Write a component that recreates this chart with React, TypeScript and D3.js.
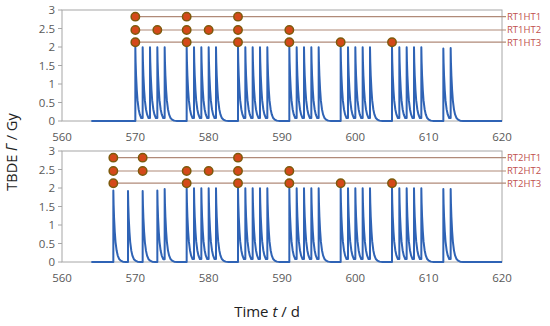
import React from 'react';
import * as d3 from 'd3';

// pulse start days (d) and peak dose (Gy)
const topPulseDays = [570, 571, 572, 573, 574, 577, 578, 579, 580, 581, 584, 585, 586, 587, 588,
  591, 592, 593, 594, 595, 598, 599, 600, 601, 602, 605, 606, 607, 608, 609, 612, 613];
const topPulsePeaks = [1.99, 1.99, 1.99, 1.99, 1.99, 1.99, 1.99, 1.99, 1.99, 1.99, 1.99, 1.99, 1.99, 1.99, 1.99,
  1.99, 1.99, 1.99, 1.99, 1.99, 1.99, 1.99, 1.99, 1.99, 1.99, 1.99, 1.99, 1.99, 1.99, 1.99, 1.96, 1.97];

const bottomPulseDays = [567, 569, 571, 573, 574, 577, 578, 579, 580, 581, 584, 585, 586, 587, 588,
  591, 592, 593, 594, 595, 598, 599, 600, 601, 602, 605, 606, 607, 608, 609, 612, 613];
const bottomPulsePeaks = [1.93, 1.92, 1.92, 1.93, 1.97, 1.99, 1.99, 1.99, 1.99, 1.99, 1.99, 1.99, 1.99, 1.99, 1.99,
  1.99, 1.99, 1.99, 1.99, 1.99, 1.99, 1.99, 1.99, 1.99, 1.99, 1.99, 1.99, 1.99, 1.99, 1.99, 1.97, 1.97];

// decay shape of one pulse, fraction of peak after a given time (d)
const shapeOffsets = [0, 0.04, 0.1, 0.2, 0.3, 0.45, 0.6, 0.8, 1.0, 1.3, 1.7];
const shapeFractions = [1, 0.8, 0.62, 0.42, 0.28, 0.16, 0.09, 0.04, 0.02, 0.005, 0];

const traceStart = 564;
const traceEnd = 620;

// schedule markers
const topNames = ['RT1HT1', 'RT1HT2', 'RT1HT3'];
const bottomNames = ['RT2HT1', 'RT2HT2', 'RT2HT3'];
const levels = [2.82, 2.46, 2.13];
const topMarkers = [
  [570, 577, 584],
  [570, 573, 577, 580, 584, 591],
  [570, 577, 584, 591, 598, 605],
];
const bottomMarkers = [
  [567, 571, 584],
  [567, 571, 577, 580, 584, 591],
  [567, 577, 584, 591, 598, 605],
];

const xTicks = [560, 570, 580, 590, 600, 610, 620];
const yTicks = [0, 0.5, 1, 1.5, 2, 2.5, 3];

const W = 550, H = 326;
const left = 62, right = 502;
const panels = [
  { top: 10, bottom: 121, days: topPulseDays, peaks: topPulsePeaks, names: topNames, markers: topMarkers },
  { top: 151, bottom: 262, days: bottomPulseDays, peaks: bottomPulsePeaks, names: bottomNames, markers: bottomMarkers },
];

function buildTrace(days: number[], peaks: number[]) {
  const pts: [number, number][] = [[traceStart, 0]];
  days.forEach((t, i) => {
    const last = pts[pts.length - 1][1];
    pts.push([t, last]);
    const gap = i < days.length - 1 ? days[i + 1] - t : Infinity;
    shapeOffsets.forEach((o, j) => {
      if (o < gap) pts.push([t + o, peaks[i] * shapeFractions[j]]);
    });
  });
  pts.push([traceEnd, 0]);
  return pts;
}

const x = d3.scaleLinear().domain([560, 620]).range([left, right]);
const font = '"Open Sans", "Noto Sans", sans-serif';

function Panel({ p }: { p: typeof panels[0] }) {
  const y = d3.scaleLinear().domain([0, 3]).range([p.bottom, p.top]);
  const line = d3.line<[number, number]>().x(d => x(d[0])).y(d => y(d[1]));
  const trace = buildTrace(p.days, p.peaks);
  return (
    <g>
      <rect x={left} y={p.top} width={right - left} height={p.bottom - p.top}
        fill="none" stroke="#a6a6a6" strokeWidth={1} />
      {yTicks.map(v => (
        <g key={v}>
          <line x1={left - 4} x2={left} y1={y(v)} y2={y(v)} stroke="#a6a6a6" />
          <text x={left - 7} y={y(v)} dy="0.35em" textAnchor="end" fontSize={11.5}
            fill="#595959" fontFamily={font}>{v}</text>
        </g>
      ))}
      {xTicks.map(v => (
        <text key={v} x={x(v)} y={p.bottom + 16} dy="0.35em" textAnchor="middle" fontSize={11.5}
          fill="#595959" fontFamily={font}>{v}</text>
      ))}
      <path d={line(trace) || ''} fill="none" stroke="#2f63b5" strokeWidth={2} strokeLinejoin="round" />
      {p.names.map((name, k) => {
        const ly = y(levels[k]);
        return (
          <g key={name}>
            <line x1={x(p.markers[k][0])} x2={right + 4} y1={ly} y2={ly} stroke="#b08a78" strokeWidth={1.2} />
            {p.markers[k].map(t => (
              <circle key={t} cx={x(t)} cy={ly} r={4.2} fill="#d4491a" stroke="#7d5a0c" strokeWidth={1.5} />
            ))}
            <text x={right + 5} y={ly} dy="0.35em" fontSize={9.5} fill="#c0504d" fontFamily={font}>{name}</text>
          </g>
        );
      })}
    </g>
  );
}

export default function App() {
  return (
    <svg width={W} height={H} style={{ position: 'absolute', left: 0, top: 0, background: '#fff' }}>
      {panels.map((p, i) => <Panel key={i} p={p} />)}
      <text transform="translate(17,152) rotate(-90)" textAnchor="middle" fontSize={14.5}
        fill="#222" fontFamily={font}>
        TBDE <tspan fontStyle="italic">Γ</tspan> / Gy
      </text>
      <text x={267} y={317} textAnchor="middle" fontSize={15} fill="#222" fontFamily={font}>
        Time <tspan fontStyle="italic">t</tspan> / d
      </text>
    </svg>
  );
}
